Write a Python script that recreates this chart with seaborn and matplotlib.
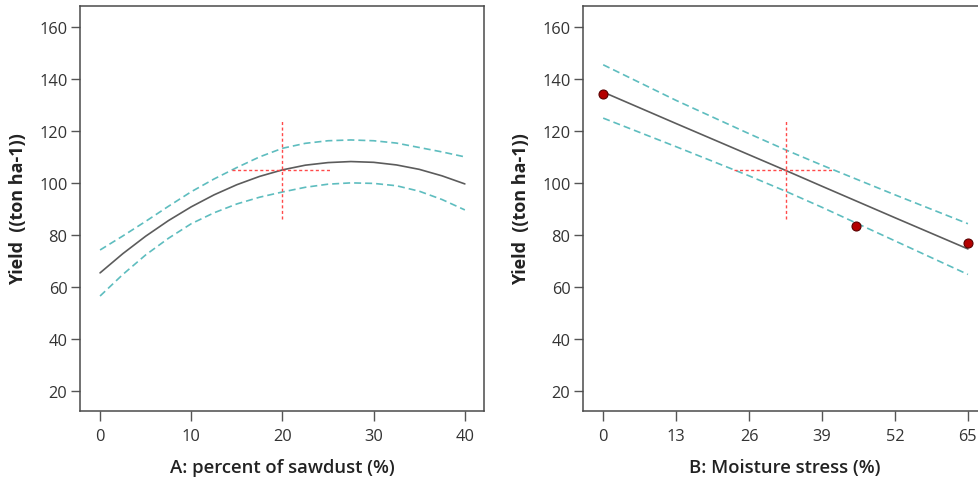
import matplotlib
matplotlib.use("Agg")
import matplotlib.pyplot as plt
import seaborn as sns
import numpy as np
import pandas as pd

# ---------------- data ----------------
# Panel A: percent of sawdust
a_x = [0, 2.5, 5, 7.5, 10, 12.5, 15, 17.5, 20, 22.5, 25, 27.5, 30, 32.5, 35, 37.5, 40]
a_fit = [65.4, 72.8, 79.5, 85.5, 90.8, 95.4, 99.3, 102.5, 105.0, 106.8, 107.8, 108.2,
         107.9, 106.9, 105.2, 102.7, 99.6]
a_upper = [74.2, 79.6, 85.2, 91.0, 96.6, 101.5, 105.9, 110.0, 113.3, 115.2, 116.2, 116.5,
           116.2, 115.3, 113.6, 111.9, 110.0]
a_lower = [56.5, 64.8, 72.3, 78.7, 84.3, 88.5, 91.9, 94.5, 96.5, 98.3, 99.5, 100.0,
           99.8, 98.9, 96.8, 93.6, 89.6]
a_center = [20, 105]
a_cross_h = [14.5, 25.4]
a_cross_v = [86.2, 124.3]
a_ticks = [0, 10, 20, 30, 40]

# Panel B: moisture stress
b_x = [0, 13, 26, 32.5, 39, 52, 65]
b_fit = [134.9, 122.8, 110.8, 104.8, 98.7, 86.6, 74.6]
b_upper = [145.4, 131.7, 118.9, 112.7, 106.8, 95.4, 84.3]
b_lower = [124.9, 113.9, 102.7, 96.8, 90.6, 77.7, 64.8]
b_pts_x = [0, 45, 65]
b_pts_y = [134.3, 83.3, 76.9]
b_center = [32.5, 105]
b_cross_h = [23.3, 41.0]
b_cross_v = [86.2, 124.3]
b_ticks = [0, 13, 26, 39, 52, 65]

y_ticks = [20, 40, 60, 80, 100, 120, 140, 160]
y_label = "Yield  ((ton ha-1))"
a_label = "A: percent of sawdust (%)"
b_label = "B: Moisture stress (%)"

# ---------------- style ----------------
sns.set_style("white")
plt.rcParams["font.family"] = ["Open Sans", "DejaVu Sans"]

FIT_C = "#5c5c5c"
BAND_C = "#5ebdbf"
CROSS_C = "#ff4a4a"
SPINE_C = "#4a4a4a"

fig = plt.figure(figsize=(9.79, 4.81), dpi=100)
axA = fig.add_axes([80 / 979, 1 - 412 / 481, 404 / 979, 405 / 481])
axB = fig.add_axes([583 / 979, 1 - 412 / 481, 404 / 979, 405 / 481])


def draw(ax, x, fit, up, lo, center, ch, cv, ticks, xlim, xlabel):
    df = pd.DataFrame({"x": x, "fit": fit, "up": up, "lo": lo})
    sns.lineplot(data=df, x="x", y="fit", ax=ax, color=FIT_C, lw=1.2,
                 estimator=None)
    for col in ("up", "lo"):
        sns.lineplot(data=df, x="x", y=col, ax=ax, color=BAND_C, lw=1.2,
                     estimator=None).lines[-1].set_dashes((4.2, 2.4))
    hl = pd.DataFrame({"x": ch, "y": [center[1], center[1]]})
    vl = pd.DataFrame({"x": [center[0], center[0]], "y": cv})
    for d in (hl, vl):
        ln = sns.lineplot(data=d, x="x", y="y", ax=ax, color=CROSS_C, lw=1.0,
                          sort=False, estimator=None, errorbar=None).lines[-1]
        ln.set_dashes((2.2, 1.8))
    ax.set_xlim(*xlim)
    ax.set_ylim(12.3, 168.0)
    ax.set_xticks(ticks)
    ax.set_xticklabels([str(t) for t in ticks])
    ax.set_yticks(y_ticks)
    ax.set_yticklabels([str(t) for t in y_ticks])
    ax.tick_params(axis="x", direction="out", length=7, width=1, color="#555555",
                   pad=5.5, labelsize=11.8, labelcolor="#333333", bottom=True)
    ax.tick_params(axis="y", direction="out", length=6.5, width=1, color="#555555",
                   pad=2.5, labelsize=11.8, labelcolor="#333333", left=True)
    for s in ax.spines.values():
        s.set_visible(True)
        s.set_color(SPINE_C)
        s.set_linewidth(1.1)
    ax.set_xlabel(xlabel, fontsize=13.3, fontweight="semibold", color="#222222",
                  labelpad=10)
    ax.set_ylabel(y_label, fontsize=13.0, fontweight="bold", color="#222222",
                  labelpad=9)
    ax.grid(False)


draw(axA, a_x, a_fit, a_upper, a_lower, a_center, a_cross_h, a_cross_v,
     a_ticks, (-2.2, 42.1), a_label)
draw(axB, b_x, b_fit, b_upper, b_lower, b_center, b_cross_h, b_cross_v,
     b_ticks, (-3.6, 68.4), b_label)

pts = pd.DataFrame({"x": b_pts_x, "y": b_pts_y})
sns.scatterplot(data=pts, x="x", y="y", ax=axB, color="#b40000", edgecolor="#5a0000",
                linewidth=0.8, s=42, zorder=5, clip_on=False)
axB.set_xlabel(b_label)
axB.set_ylabel(y_label)
axB.xaxis.label.set_fontweight("semibold")
axB.yaxis.label.set_fontweight("bold")

fig.savefig("out.png", dpi=100)
